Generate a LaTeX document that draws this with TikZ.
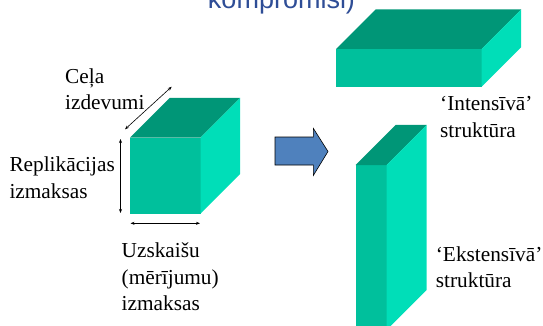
\documentclass[tikz,border=0pt]{standalone}
\usepackage{fontspec}
\setmainfont{Liberation Serif}
\newfontfamily\titlefont{Liberation Sans}
\usetikzlibrary{arrows.meta}
\definecolor{topc}{HTML}{009677}
\definecolor{frontc}{HTML}{00C09C}
\definecolor{sidec}{HTML}{00DEB8}
\definecolor{titlec}{HTML}{2E4D96}
\definecolor{arrowc}{HTML}{4F81BD}
\newcommand\mycuboid[5]{%
  \fill[frontc] (#1,#2) rectangle ++(#3,#4);
  \fill[topc] (#1,#2) -- ++(#5,-#5) -- ++(#3,0) -- ++(-#5,#5) -- cycle;
  \fill[sidec] (#1+#3,#2) -- ++(#5,-#5) -- ++(0,#4) -- ++(-#5,#5) -- cycle;}
\begin{document}
\begin{tikzpicture}[x=1pt,y=-1pt,
  dim/.style={{Stealth[length=4pt,width=3pt]}-{Stealth[length=4pt,width=3pt]},line width=0.6pt},
  lbl/.style={anchor=base west,inner sep=0pt,align=left,font=\fontsize{21.3}{26.7}\selectfont}]
\useasboundingbox (0,0) rectangle (543,326);
\clip (0,0) rectangle (543,326);
% title fragment
\node[anchor=base,inner sep=0pt,text=titlec,font=\titlefont\fontsize{27}{32}\selectfont] (title) at (281.5,8.5) {kompromisi)};
% cuboids
\mycuboid{130}{137.5}{70.5}{76}{39.5}
\mycuboid{336}{49}{145.7}{37.7}{39.5}
\mycuboid{355.7}{165}{31}{165}{40}
% dimension arrows
\coordinate (d1a) at (125,129.3);
\coordinate (d1b) at (171.7,86.7);
\coordinate (d2a) at (120.5,139);
\coordinate (d2b) at (120.5,213);
\coordinate (d3a) at (130.5,223.3);
\coordinate (d3b) at (200,223.3);
\draw[dim] (d1a) -- (d1b);
\draw[dim] (d2a) -- (d2b);
\draw[dim] (d3a) -- (d3b);
% blue arrow
\draw[fill=arrowc,line width=0.6pt,line join=miter]
  (275,137) -- (313.3,137) -- (313.3,128.3) -- (328,151.5) -- (313.3,175.5) -- (313.3,165) -- (275,165) -- cycle;
% labels (base anchor = baseline of last line)
\node[lbl] (cela) at (65,109.7) {Ceļa\\izdevumi};
\node[lbl] (repl) at (9.3,198.2) {Replikācijas\\izmaksas};
\node[lbl] (uzsk) at (121.5,310.7) {Uzskaišu\\(mērījumu)\\izmaksas};
\node[lbl] (intens) at (440,137.7) {‘Intensīvā’\\struktūra};
\node[lbl] (ekst) at (435.7,287.7) {‘Ekstensīvā’\\struktūra};
\end{tikzpicture}
\end{document}
